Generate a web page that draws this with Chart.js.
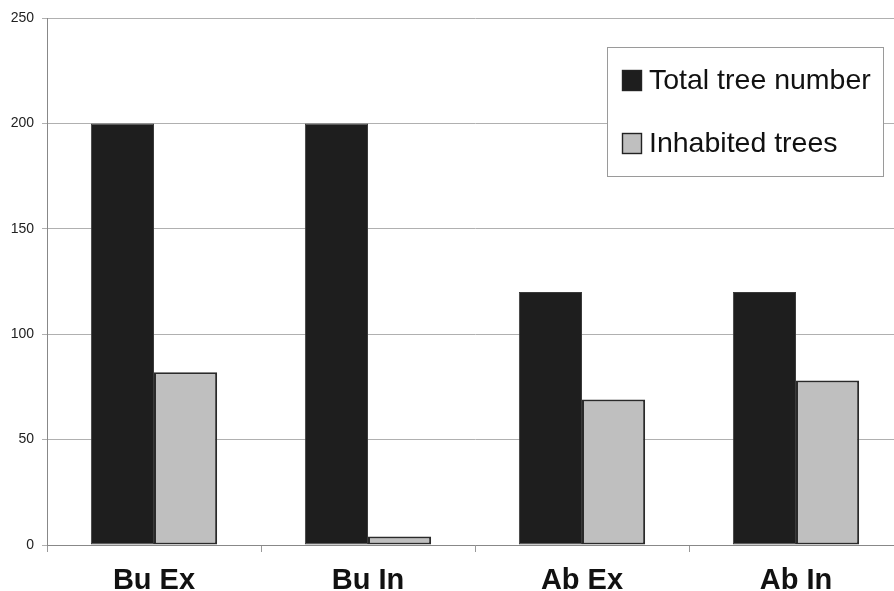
<!DOCTYPE html>
<html>
<head>
<meta charset="utf-8">
<script src="https://cdn.jsdelivr.net/npm/chart.js@4.4.0/dist/chart.umd.min.js"></script>
<style>
html,body{margin:0;padding:0;background:#fff;overflow:hidden;width:894px;height:591px;}
#wrap{position:relative;width:903px;height:591px;}
</style>
</head>
<body>
<div id="wrap"><canvas id="c" width="903" height="591"></canvas></div>
<script>
const categories = ["Bu Ex", "Bu In", "Ab Ex", "Ab In"];
const totalTrees = [200, 200, 120, 120];
const inhabitedTrees = [82, 4, 69, 78];
const seriesNames = ["Total tree number", "Inhabited trees"];
const yTicks = [0, 50, 100, 150, 200, 250];

const legendBox = {
  id: 'legendBox',
  afterDraw(chart) {
    const ctx = chart.ctx;
    ctx.save();
    const x0 = 607, y0 = 47, w = 276, h = 129;
    ctx.fillStyle = '#fff';
    ctx.fillRect(x0, y0, w, h);
    ctx.strokeStyle = '#9a9a9a';
    ctx.lineWidth = 1;
    ctx.strokeRect(x0 + 0.5, y0 + 0.5, w, h);
    const rows = [80, 143];
    chart.data.datasets.forEach((ds, i) => {
      const cy = rows[i];
      ctx.fillStyle = ds.backgroundColor;
      ctx.fillRect(622, cy - 10, 20, 21);
      ctx.strokeStyle = '#222';
      ctx.lineWidth = 1.4;
      ctx.strokeRect(622.5, cy - 9.5, 19, 20);
      ctx.fillStyle = '#111';
      ctx.font = '28.5px "Liberation Sans", Arial, sans-serif';
      ctx.textBaseline = 'middle';
      ctx.textAlign = 'left';
      ctx.fillText(ds.label, 649, cy + 1);
    });
    ctx.restore();
  }
};

new Chart(document.getElementById('c'), {
  type: 'bar',
  data: {
    labels: categories,
    datasets: [
      { label: seriesNames[0], data: totalTrees, backgroundColor: '#1e1e1e', borderColor: '#3a3a3a', borderWidth: 1, borderSkipped: false },
      { label: seriesNames[1], data: inhabitedTrees, backgroundColor: '#bfbfbf', borderColor: '#2a2a2a', borderWidth: 2, borderSkipped: false }
    ]
  },
  options: {
    responsive: false,
    animation: false,
    devicePixelRatio: 1,
    layout: { padding: { top: 18, left: 0, right: 0, bottom: 0 } },
    plugins: { legend: { display: false }, tooltip: { enabled: false } },
    datasets: { bar: { barPercentage: 1.0, categoryPercentage: 0.59 } },
    scales: {
      x: {
        grid: { drawOnChartArea: false, drawTicks: true, tickLength: 7, color: '#999', offset: true },
        border: { color: '#888', width: 1 },
        ticks: {
          color: '#111',
          font: { family: '"Liberation Sans", Arial, sans-serif', size: 29, weight: 'bold' },
          padding: 12
        },
        afterFit(s) { s.height = 46; }
      },
      y: {
        min: 0, max: 250,
        afterBuildTicks(s) { s.ticks = yTicks.map(v => ({ value: v })); },
        grid: { color: '#b0b0b0', lineWidth: 1, tickLength: 5, drawTicks: true },
        border: { color: '#888', width: 1 },
        ticks: {
          color: '#222',
          font: { family: '"Liberation Sans", Arial, sans-serif', size: 14 },
          padding: 8
        },
        afterFit(s) { s.width = 47; }
      }
    }
  },
  plugins: [legendBox]
});
</script>
</body>
</html>
